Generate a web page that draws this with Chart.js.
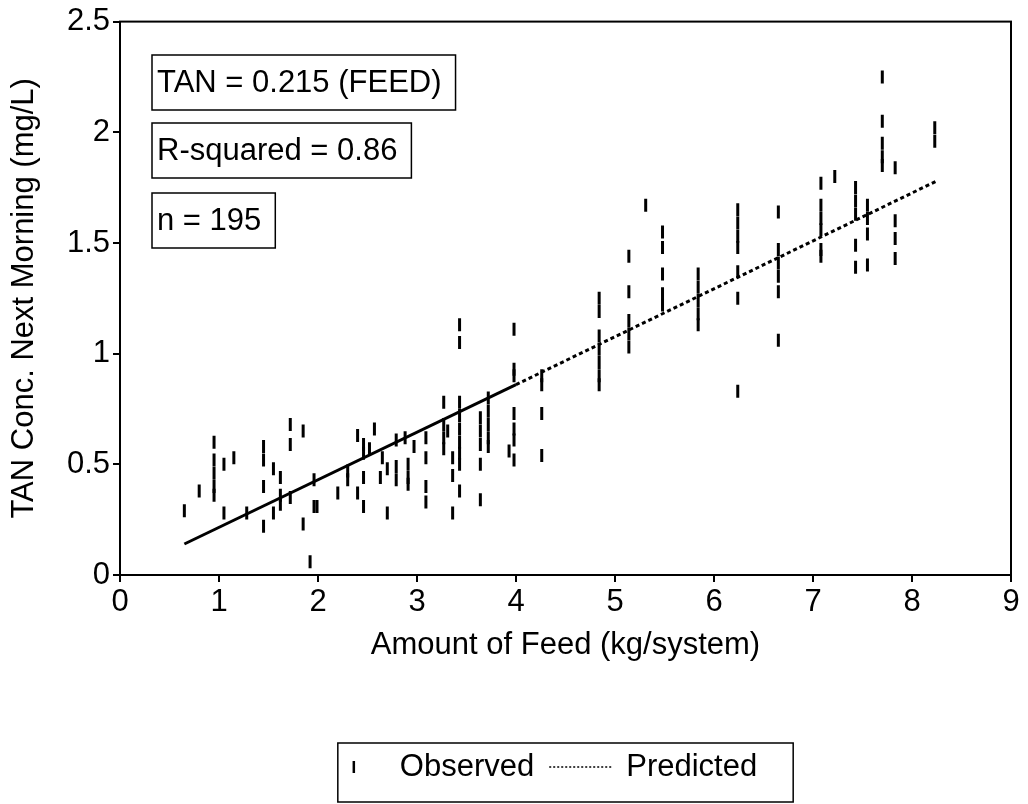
<!DOCTYPE html>
<html lang="en">
<head>
<meta charset="UTF-8">
<title>TAN vs Feed</title>
<script src="https://cdn.jsdelivr.net/npm/chart.js"></script>
<style>
  html, body { margin: 0; padding: 0; background: #fff; }
</style>
</head>
<body>
<canvas id="chart" width="1028" height="804"></canvas>
<script>
// observed points (feed, TAN), one row per feed level
const obsFeed = [
  0.65, 0.80,
  0.95, 0.95, 0.95, 0.95, 0.95,
  1.05, 1.05, 1.15, 1.28,
  1.45, 1.45, 1.45, 1.45,
  1.55, 1.55, 1.62, 1.62, 1.62,
  1.72, 1.72, 1.72, 1.85, 1.85, 1.92,
  1.96, 1.96, 1.99, 2.20, 2.30, 2.30, 2.40, 2.40,
  2.46, 2.46, 2.46, 2.46, 2.52, 2.57, 2.63, 2.65, 2.70, 2.70,
  2.79, 2.79, 2.79, 2.88, 2.91, 2.91, 2.91, 2.97,
  3.09, 3.09, 3.09, 3.09,
  3.27, 3.27, 3.27, 3.27, 3.31, 3.36, 3.36, 3.36,
  3.43, 3.43, 3.43, 3.43, 3.43, 3.43, 3.43, 3.43, 3.43,
  3.64, 3.64, 3.64, 3.64, 3.64,
  3.72, 3.72, 3.72, 3.72, 3.72, 3.93,
  3.98, 3.98, 3.98, 3.98, 3.98, 3.98, 3.98,
  4.26, 4.26, 4.26, 4.26,
  4.84, 4.84, 4.84, 4.84, 4.84, 4.84, 4.84,
  5.14, 5.14, 5.14, 5.14, 5.14, 5.31,
  5.48, 5.48, 5.48, 5.48, 5.48,
  5.84, 5.84, 5.84, 5.84, 5.84,
  6.24, 6.24, 6.24, 6.24, 6.24, 6.24, 6.24,
  6.65, 6.65, 6.65, 6.65, 6.65, 6.65,
  7.08, 7.08, 7.08, 7.08, 7.08, 7.08, 7.22,
  7.43, 7.43, 7.43, 7.43, 7.43,
  7.55, 7.55, 7.55, 7.55,
  7.70, 7.70, 7.70, 7.70, 7.70,
  7.83, 7.83, 7.83, 7.83, 8.23, 8.23
];
const obsTan = [
  0.29, 0.38,
  0.60, 0.52, 0.46, 0.40, 0.36,
  0.50, 0.28, 0.53, 0.28,
  0.58, 0.52, 0.40, 0.22,
  0.48, 0.28, 0.44, 0.36, 0.32,
  0.68, 0.59, 0.35, 0.65, 0.23, 0.06,
  0.43, 0.31, 0.31, 0.37, 0.47, 0.43, 0.63, 0.37,
  0.59, 0.55, 0.44, 0.31, 0.57, 0.66, 0.44, 0.53, 0.48, 0.28,
  0.61, 0.49, 0.43, 0.62, 0.50, 0.44, 0.41, 0.58,
  0.62, 0.53, 0.40, 0.33,
  0.78, 0.68, 0.62, 0.57, 0.65, 0.53, 0.45, 0.28,
  1.13, 1.05, 0.78, 0.72, 0.66, 0.60, 0.55, 0.50, 0.38,
  0.71, 0.65, 0.59, 0.50, 0.34,
  0.80, 0.74, 0.68, 0.62, 0.58, 0.56,
  1.11, 0.93, 0.90, 0.73, 0.66, 0.61, 0.52,
  0.90, 0.86, 0.73, 0.54,
  1.25, 1.19, 1.08, 1.02, 0.96, 0.90, 0.86,
  1.44, 1.28, 1.15, 1.09, 1.03, 1.67,
  1.55, 1.48, 1.36, 1.27, 1.22,
  1.36, 1.30, 1.24, 1.18, 1.13,
  1.65, 1.59, 1.53, 1.48, 1.37, 1.25, 0.83,
  1.64, 1.47, 1.41, 1.35, 1.28, 1.06,
  1.77, 1.67, 1.61, 1.56, 1.47, 1.44, 1.80,
  1.75, 1.69, 1.63, 1.49, 1.39,
  1.67, 1.61, 1.54, 1.40,
  2.25, 2.05, 1.95, 1.89, 1.85,
  1.84, 1.60, 1.52, 1.43, 2.02, 1.96
];

// regression line
const predFeed = [0.65, 4.0, 8.25];
const predTan = [0.14, 0.86, 1.78];

const xTicks = [0, 1, 2, 3, 4, 5, 6, 7, 8, 9];
const yTicks = [0, 0.5, 1, 1.5, 2, 2.5];
const notes = ['TAN = 0.215 (FEED)', 'R-squared = 0.86', 'n = 195'];
const seriesNames = ['Observed', 'Predicted'];

const FONT = '"Liberation Sans", Arial, Helvetica, sans-serif';

const decor = {
  id: 'decor',
  afterDraw(chart) {
    const ctx = chart.ctx;
    const a = chart.chartArea;
    ctx.save();
    ctx.strokeStyle = '#000';
    ctx.lineWidth = 2;
    ctx.strokeRect(a.left, a.top, a.right - a.left, a.bottom - a.top);

    // boxed notes in the top left corner
    ctx.font = '31px ' + FONT;
    ctx.fillStyle = '#000';
    ctx.textBaseline = 'middle';
    const tops = [55, 123, 193];
    notes.forEach((t, i) => {
      const w = ctx.measureText(t).width;
      const x = a.left + 32;
      ctx.lineWidth = 1.5;
      ctx.strokeRect(x, tops[i], w + 19, 55);
      ctx.fillText(t, x + 5, tops[i] + 28);
    });

    // legend box under the axis title
    const w1 = ctx.measureText(seriesNames[0]).width;
    const w2 = ctx.measureText(seriesNames[1]).width;
    const boxW = 62 + w1 + 15 + 62 + 15 + w2 + 36;
    const left = (a.left + a.right) / 2 - boxW / 2;
    const top = 743, cy = 767;
    ctx.lineWidth = 1.5;
    ctx.strokeRect(left, top, boxW, 59);

    ctx.lineWidth = 2.5;
    ctx.beginPath();
    ctx.moveTo(left + 16, cy - 6);
    ctx.lineTo(left + 16, cy + 6);
    ctx.stroke();
    ctx.fillText(seriesNames[0], left + 62, cy);

    const lx = left + 62 + w1 + 15;
    ctx.lineWidth = 1.5;
    ctx.setLineDash([2, 2]);
    ctx.beginPath();
    ctx.moveTo(lx, cy);
    ctx.lineTo(lx + 62, cy);
    ctx.stroke();
    ctx.setLineDash([]);
    ctx.fillText(seriesNames[1], lx + 62 + 15, cy);
    ctx.restore();
  }
};

new Chart(document.getElementById('chart'), {
  type: 'scatter',
  data: {
    datasets: [{
      label: seriesNames[0],
      data: obsFeed.map((x, i) => ({ x: x, y: obsTan[i] })),
      pointStyle: 'line',
      rotation: 90,
      pointRadius: 6.5,
      borderWidth: 3,
      borderColor: '#000',
      backgroundColor: '#000'
    }, {
      type: 'line',
      label: seriesNames[1],
      data: predFeed.map((x, i) => ({ x: x, y: predTan[i] })),
      borderColor: '#000',
      borderWidth: 3,
      pointRadius: 0,
      fill: false,
      segment: {
        borderDash: c => c.p0.parsed.x >= 3.9 ? [4, 3] : undefined
      }
    }]
  },
  options: {
    responsive: false,
    animation: false,
    events: [],
    layout: { padding: { left: 0, top: 19, right: 17, bottom: 129 } },
    plugins: { legend: { display: false }, tooltip: { enabled: false } },
    scales: {
      x: {
        type: 'linear',
        min: 0, max: 9,
        afterBuildTicks: s => { s.ticks = xTicks.map(v => ({ value: v })); },
        afterFit: s => { s.height = 100; },
        ticks: { color: '#000', font: { size: 31, family: FONT }, padding: 2, callback: v => String(v) },
        grid: { drawOnChartArea: false, drawTicks: true, tickLength: 7, color: '#000', lineWidth: 2 },
        border: { color: '#000', width: 2 },
        title: {
          display: true, text: 'Amount of Feed (kg/system)', color: '#000',
          font: { size: 31, family: FONT }, padding: { top: 0, bottom: 11 }
        }
      },
      y: {
        type: 'linear',
        min: 0, max: 2.5,
        afterBuildTicks: s => { s.ticks = yTicks.map(v => ({ value: v })); },
        afterFit: s => { s.width = 120; },
        ticks: { color: '#000', font: { size: 31, family: FONT }, padding: 3, callback: v => String(v) },
        grid: { drawOnChartArea: false, drawTicks: true, tickLength: 7, color: '#000', lineWidth: 2 },
        border: { color: '#000', width: 2 },
        title: {
          display: true, text: 'TAN Conc. Next Morning (mg/L)', color: '#000',
          font: { size: 31, family: FONT }, padding: { top: 6, bottom: 0 }
        }
      }
    }
  },
  plugins: [decor]
});
</script>
</body>
</html>
